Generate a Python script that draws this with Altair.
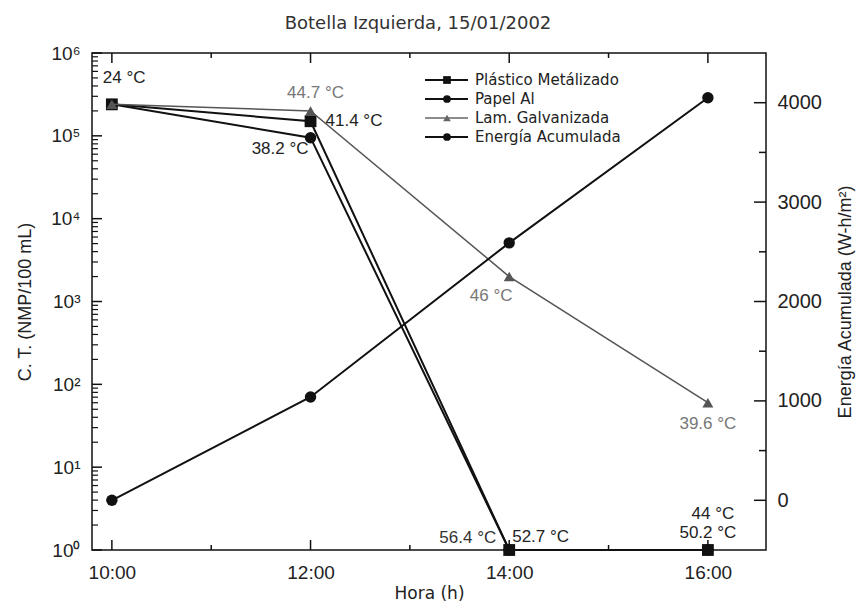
import altair as alt
import pandas as pd

# ---------------- data ----------------
horas = [10, 12, 14, 16]
plastico = [2.4e5, 1.5e5, 1, 1]
papel = [2.4e5, 9.5e4, 1, 1]
galvanizada = [2.4e5, 2.0e5, 2.0e3, 60]
energia = [0, 1040, 2590, 4050]

series_names = ["Plástico Metálizado", "Papel Al", "Lam. Galvanizada", "Energía Acumulada"]

ann_text = ["24 °C", "44.7 °C", "41.4 °C", "38.2 °C", "46 °C", "56.4 °C", "52.7 °C",
            "39.6 °C", "44 °C", "50.2 °C"]
ann_hora = [10, 12, 12, 12, 14, 14, 14, 16, 16, 16]
ann_valor = [2.4e5, 2.0e5, 1.5e5, 9.5e4, 2.0e3, 1, 1, 60, 1, 1]

x_major = [10, 12, 14, 16]
x_minor = [11, 13, 15]
y_major = [1, 10, 100, 1000, 10000, 100000, 1000000]
y_minor = [m * 10 ** k for k in range(6) for m in range(2, 10)]
e_major = [0, 1000, 2000, 3000, 4000]
e_minor = [500, 1500, 2500, 3500]

# ---------------- layout ----------------
W, H = 674, 497
AX = "Liberation Sans"
VF = "DejaVu Sans"

xscale = alt.Scale(domain=[9.8, 16.585], nice=False, zero=False)
yscale = alt.Scale(type="log", domain=[1, 1e6], nice=False)
escale = alt.Scale(domain=[-500, 4500], nice=False, zero=False)

xaxis = alt.Axis(values=x_major, labelExpr="datum.value + ':00'", ticks=False, grid=False,
                 domain=False, title="Hora (h)", titleFont=VF, titleFontSize=17,
                 titleFontWeight="normal", titleColor="#222", labelFont=AX, labelFontSize=19,
                 labelColor="#222", labelPadding=13, titlePadding=3)
yaxis = alt.Axis(orient="left", values=y_major,
                 labelExpr="'10' + ['⁰','¹','²','³','⁴','⁵','⁶'][round(log(datum.value)/LN10)]",
                 ticks=False, grid=False, domain=False, title="C. T. (NMP/100 mL)",
                 titleFont=AX, titleFontSize=18, titleFontWeight="normal", titleColor="#222",
                 labelFont=AX, labelFontSize=19, labelColor="#222", labelPadding=12,
                 titlePadding=16)
eaxis = alt.Axis(orient="right", values=e_major, format="d", ticks=False, grid=False, domain=False,
                 title="Energía Acumulada (W-h/m²)", titleFont=AX, titleFontSize=18,
                 titleFontWeight="normal", titleColor="#222", titleAngle=270,
                 labelFont=AX, labelFontSize=20, labelColor="#222", labelPadding=11,
                 titlePadding=33)

ct = pd.DataFrame({"hora": horas * 3,
                   "valor": plastico + papel + galvanizada,
                   "serie": [series_names[0]] * 4 + [series_names[1]] * 4 + [series_names[2]] * 4})
en = pd.DataFrame({"hora": horas, "energia": energia})


def ser(name):
    return alt.Chart(ct).transform_filter(alt.datum.serie == name)


X = alt.X("hora:Q", scale=xscale, axis=xaxis)
Y = alt.Y("valor:Q", scale=yscale, axis=yaxis)

left_layers = []
left_layers.append(ser(series_names[1]).mark_line(color="#111", strokeWidth=2).encode(x=X, y=Y))
left_layers.append(ser(series_names[1]).mark_point(shape="circle", filled=True, color="#111",
                                                    size=130, opacity=1).encode(x=X, y=Y))
left_layers.append(ser(series_names[0]).mark_line(color="#111", strokeWidth=2).encode(x=X, y=Y))
left_layers.append(ser(series_names[0]).mark_point(shape="square", filled=True, color="#111",
                                                    size=140, opacity=1).encode(x=X, y=Y))
left_layers.append(ser(series_names[2]).mark_line(color="#555", strokeWidth=1.5).encode(x=X, y=Y))
left_layers.append(ser(series_names[2]).mark_point(shape="triangle-up", filled=True, color="#555",
                                                    size=120, opacity=1).encode(x=X, y=Y))

ann_style = [("left", -9, -26, "#222"), ("center", 5, -18, "#777"), ("left", 15, 0, "#222"),
             ("right", -2, 11, "#222"), ("center", -18, 19, "#777"), ("right", -13, -12, "#333"),
             ("left", 3, -13, "#222"), ("center", 0, 21, "#777"), ("center", 5, -36, "#222"),
             ("center", 0, -17, "#222")]
for t, h, v, (al, dx, dy, col) in zip(ann_text, ann_hora, ann_valor, ann_style):
    d = pd.DataFrame({"hora": [h], "valor": [v], "t": [t]})
    left_layers.append(alt.Chart(d).mark_text(font=AX, fontSize=17, align=al, baseline="middle",
                                              dx=dx, dy=dy, color=col)
                       .encode(x=X, y=Y, text="t:N"))

left_layers.append(alt.Chart(pd.DataFrame({"valor": y_major})).mark_rule(color="#111", strokeWidth=1.5)
                   .encode(y=Y, x=alt.value(0), x2=alt.value(10)))
left_layers.append(alt.Chart(pd.DataFrame({"valor": y_minor})).mark_rule(color="#111", strokeWidth=1.2)
                   .encode(y=Y, x=alt.value(0), x2=alt.value(6)))
for vals, ln in ((x_major, 10), (x_minor, 5)):
    d = pd.DataFrame({"hora": vals})
    left_layers.append(alt.Chart(d).mark_rule(color="#111", strokeWidth=1.5)
                       .encode(x=X, y=alt.value(H), y2=alt.value(H - ln)))
    left_layers.append(alt.Chart(d).mark_rule(color="#111", strokeWidth=1.5)
                       .encode(x=X, y=alt.value(0), y2=alt.value(ln)))

leg_y = [27, 46, 65, 84]
leg_shape = ["square", "circle", "triangle-up", "circle"]
leg_col = ["#111", "#111", "#666", "#111"]
for name, ly, shp, col in zip(series_names, leg_y, leg_shape, leg_col):
    d = pd.DataFrame({"serie": [name]})
    left_layers.append(alt.Chart(d).mark_rule(color=col, strokeWidth=2 if col == "#111" else 1.5)
                       .encode(x=alt.value(333), x2=alt.value(376), y=alt.value(ly)))
    left_layers.append(alt.Chart(d).mark_point(shape=shp, filled=True, color=col, size=60, opacity=1)
                       .encode(x=alt.value(355), y=alt.value(ly)))
    left_layers.append(alt.Chart(d).mark_text(font=VF, fontSize=15, align="left", baseline="middle",
                                              color="#222")
                       .encode(x=alt.value(383), y=alt.value(ly), text="serie:N"))

left = alt.layer(*left_layers)

E = alt.Y("energia:Q", scale=escale, axis=eaxis)
right_layers = [
    alt.Chart(en).mark_line(color="#111", strokeWidth=2).encode(x=X, y=E),
    alt.Chart(en).mark_point(shape="circle", filled=True, color="#111", size=130, opacity=1)
    .encode(x=X, y=E),
    alt.Chart(pd.DataFrame({"energia": e_major})).mark_rule(color="#111", strokeWidth=1.5)
    .encode(y=E, x=alt.value(W), x2=alt.value(W - 12)),
    alt.Chart(pd.DataFrame({"energia": e_minor})).mark_rule(color="#111", strokeWidth=1.5)
    .encode(y=E, x=alt.value(W), x2=alt.value(W - 7)),
]
right = alt.layer(*right_layers)

chart = (alt.layer(left, right)
         .resolve_scale(y="independent")
         .properties(width=W, height=H,
                     title=alt.TitleParams("Botella Izquierda, 15/01/2002", font=VF, fontSize=18,
                                           fontWeight="normal", color="#333", anchor="middle",
                                           dx=-11, offset=11),
                     autosize=alt.AutoSizeParams(type="none"),
                     padding={"left": 84, "top": 45, "right": 90, "bottom": 56},
                     background="white")
         .configure_view(stroke="#111", strokeWidth=1.5))

chart.save("out.html", embed_options={"renderer": "svg", "actions": False})
